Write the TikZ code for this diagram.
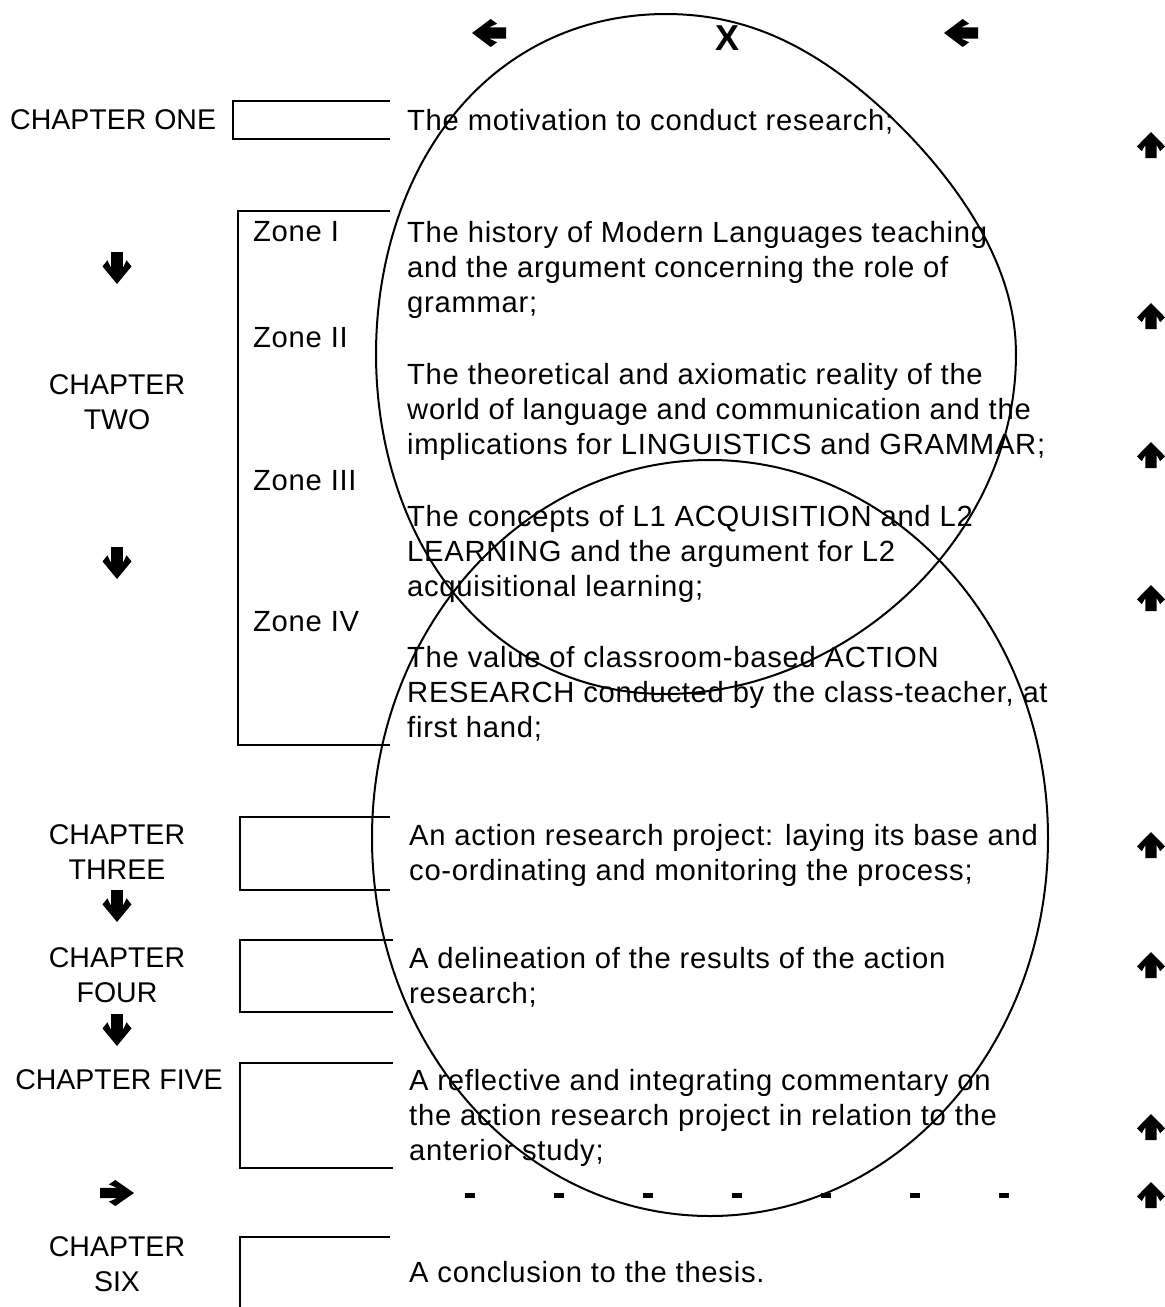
\documentclass[tikz,border=0pt]{standalone}
\usepackage{fontspec}
\setmainfont{Liberation Sans}
\newfontfamily\bodyfont{Liberation Sans}[LetterSpace=2.5]
\begin{document}
\begin{tikzpicture}[x=1pt,y=-1pt,
  body/.style={inner sep=0pt, anchor=north west, align=left, font=\bodyfont\fontsize{29.2}{35}\selectfont},
  chap/.style={inner sep=0pt, align=center, font=\fontsize{28.5}{35}\selectfont},
  zone/.style={inner sep=0pt, anchor=west, font=\bodyfont\fontsize{29.2}{35}\selectfont},
  bracket/.style={line width=2pt, line join=miter},
  loop/.style={line width=2pt},
  fatarrow/.pic={\fill (0.5,0)--(-0.05,0.5)--(-0.24,0.33)--(0.0,0.2)--(-0.5,0.2)--(-0.5,-0.2)--(0.0,-0.2)--(-0.24,-0.33)--(-0.05,-0.5)--cycle;}
]
\useasboundingbox (0,0) rectangle (1165,1307);

% top row
\pic[rotate=180, xscale=34, yscale=28] at (489,33) {fatarrow};
\node[inner sep=0pt, font=\fontsize{36}{40}\selectfont\bfseries] (xmark) at (727,38) {X};
\pic[rotate=180, xscale=34, yscale=28] at (961,33) {fatarrow};

% chapter labels
\node[chap, anchor=west] (c1) at (10,120) {CHAPTER ONE};
\node[chap] (c2) at (117,402.5) {CHAPTER\\TWO};
\node[chap] (c3) at (117,852.5) {CHAPTER\\THREE};
\node[chap] (c4) at (117,975.5) {CHAPTER\\FOUR};
\node[chap] (c5) at (119,1080) {CHAPTER FIVE};
\node[chap] (c6) at (117,1264.5) {CHAPTER\\SIX};

% arrows of the left column
\pic[rotate=-90, xscale=32, yscale=29] at (117,268) {fatarrow};
\pic[rotate=-90, xscale=32, yscale=29] at (117,563) {fatarrow};
\pic[rotate=-90, xscale=32, yscale=29] at (117,906) {fatarrow};
\pic[rotate=-90, xscale=32, yscale=29] at (117,1030) {fatarrow};
\pic[xscale=34, yscale=26] at (117,1193) {fatarrow};

% brackets
\draw[bracket] (390,101) -- (233,101) -- (233,139) -- (390,139);
\draw[bracket] (390,211) -- (238,211) -- (238,745) -- (390,745);
\draw[bracket] (390,817) -- (240,817) -- (240,890) -- (390,890);
\draw[bracket] (393,940) -- (240,940) -- (240,1012) -- (393,1012);
\draw[bracket] (393,1063) -- (240,1063) -- (240,1168) -- (393,1168);
\draw[bracket] (390,1237) -- (240,1237) -- (240,1307);

% zone labels
\node[zone] (z1) at (253,232) {Zone I};
\node[zone] (z2) at (253,338) {Zone II};
\node[zone] (z3) at (253,481) {Zone III};
\node[zone] (z4) at (253,622) {Zone IV};

% descriptions
\node[body] (d1) at (407,109.5) {The motivation to conduct research;};
\node[body] (d2) at (407,221.5) {The history of Modern Languages teaching\\and the argument concerning the role of\\grammar;};
\node[body] (d3) at (407,363.5) {The theoretical and axiomatic reality of the\\world of language and communication and the\\implications for LINGUISTICS and GRAMMAR;};
\node[body] (d4) at (407,505.5) {The concepts of L1 ACQUISITION and L2\\LEARNING and the argument for L2\\acquisitional learning;};
\node[body] (d5) at (407,646.5) {The value of classroom-based ACTION\\RESEARCH conducted by the class-teacher, at\\first hand;};
\node[body] (d6) at (409,824.5) {An action research project: laying its base and\\co-ordinating and monitoring the process;};
\node[body] (d7) at (409,947.5) {A delineation of the results of the action\\research;};
\node[body] (d8) at (409,1069.5) {A reflective and integrating commentary on\\the action research project in relation to the\\anterior study;};
\node[body] (d9) at (409,1261.5) {A conclusion to the thesis.};

% arrows of the right column
\foreach \yy in {145,316,455,598,845,965,1127,1195}
  \pic[rotate=90, xscale=26, yscale=28] at (1151,\yy) {fatarrow};

% dashed row
\foreach \k in {0,...,6}
  \fill (465+89*\k,1192.5) rectangle ++(10,5);

% the two overlapping loops (the upper one hand-drawn, a little flattened at its upper right)
\draw[loop] plot[domain=0:360, samples=145, smooth cycle]
  ({696-30*sin(\x)^2+320*cos(\x)-80*(\x>270)*(sin(\x)*cos(\x))^2}, {354+340*sin(\x)});
\draw[loop] (710,838) ellipse[x radius=338, y radius=378];
\end{tikzpicture}
\end{document}
